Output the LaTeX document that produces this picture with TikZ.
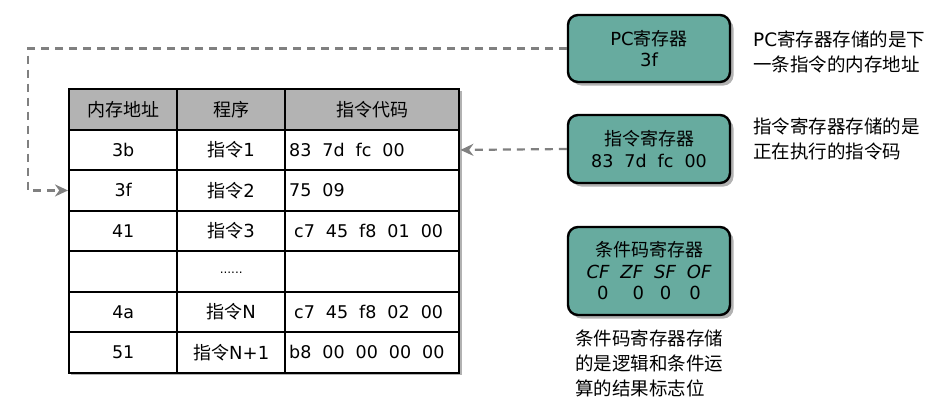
\documentclass[tikz,border=0pt]{standalone}
\usepackage{fontspec}
\setmainfont{Noto Sans CJK SC}
\newfontfamily\lat{DejaVu Sans}
\usetikzlibrary{arrows.meta,shadows}
\definecolor{tealreg}{HTML}{67AB9F}
\definecolor{headgray}{HTML}{B3B3B3}
\newcommand\gp{\hspace{11pt}}
\begin{document}
\begin{tikzpicture}[x=1pt,y=-1pt,
  font=\fontsize{18}{21.5}\selectfont,
  cell/.style={draw=black, line width=2.4pt, fill=white, minimum height=40.5pt, inner sep=0pt, anchor=north west},
  reg/.style={draw=black, line width=2.4pt, fill=tealreg, rounded corners=10pt, minimum width=162pt, inner sep=0pt, align=center,
    drop shadow={shadow xshift=3.5pt, shadow yshift=-3.5pt, fill=black!30, opacity=1}},
  conn/.style={draw=black!50, line width=2.2pt, dash pattern=on 8pt off 6pt, -{Stealth[length=13pt,width=12pt]}},
  note/.style={align=left, anchor=north west, inner sep=0pt, font=\fontsize{18.5}{25}\selectfont},
  codetxt/.style={anchor=west, inner sep=0pt, font=\lat\fontsize{17.5}{20}\selectfont}]
\useasboundingbox (0,0) rectangle (933,416);

% table shadow
\fill[black!30] (71,91) rectangle (462,375);

% header
\node[cell, fill=headgray, minimum width=108pt] (h-1) at (68,88) {内存地址};
\node[cell, fill=headgray, minimum width=108pt] (h-2) at (176,88) {程序};
\node[cell, fill=headgray, minimum width=174pt] (h-3) at (284,88) {指令代码};

% rows
\foreach \r/\addr/\prog [count=\i] in {1/3b/指令{\lat 1}, 2/3f/指令{\lat 2}, 3/41/指令{\lat 3}, 4//{\lat\fontsize{12}{12}\selectfont\raisebox{-5pt}{......}}, 5/4a/指令{\lat N}, 6/51/指令{\lat N+1}}{
  \node[cell, minimum width=108pt] (c\r-1) at (68,88+40.5*\i) {\lat\fontsize{17.5}{20}\selectfont\addr};
  \node[cell, minimum width=108pt] (c\r-2) at (176,88+40.5*\i) {\fontsize{18}{20}\selectfont\prog};
  \node[cell, minimum width=174pt] (c\r-3) at (284,88+40.5*\i) {};
}
\node[codetxt] (t1) at ([xshift=5pt]c1-3.west) {83\gp 7d\gp fc\gp 00};
\node[codetxt] (t2) at ([xshift=5pt]c2-3.west) {75\gp 09};
\node[codetxt] (t3) at ([xshift=10pt]c3-3.west) {c7\gp 45\gp f8\gp 01\gp 00};
\node[codetxt] (t5) at ([xshift=10pt]c5-3.west) {c7\gp 45\gp f8\gp 02\gp 00};
\node[codetxt] (t6) at ([xshift=5pt]c6-3.west) {b8\gp 00\gp 00\gp 00\gp 00};

% registers
\node[reg, minimum height=67pt] (pc) at (649,48.5) {{\lat PC}寄存器\\{\lat 3f}};
\node[reg, minimum height=68pt] (ir) at (649,149) {指令寄存器\\{\lat\fontsize{17.5}{20}\selectfont 83\gp 7d\gp fc\gp 00}};
\node[reg, minimum height=88pt] (cc) at (649,271) {条件码寄存器\\{\lat\itshape CF\hspace{11pt}ZF\hspace{11pt}SF\hspace{11pt}OF}\\{\lat 0\hspace{24pt}0\hspace{16pt}0\hspace{18pt}0}};

% notes
\node[note] (n1) at (753,31) {{\lat PC}寄存器存储的是下\\一条指令的内存地址};
\node[note] (n2) at (753,118) {指令寄存器存储的是\\正在执行的指令码};
\node[note] (n3) at (575,330) {条件码寄存器存储\\的是逻辑和条件运\\算的结果标志位};

% connectors
\coordinate (lp) at (28,100);
\draw[conn] (pc.west) -| (lp) |- (c2-1.west);
\draw[conn] (ir.west) -- (c1-3.east);
\end{tikzpicture}
\end{document}
